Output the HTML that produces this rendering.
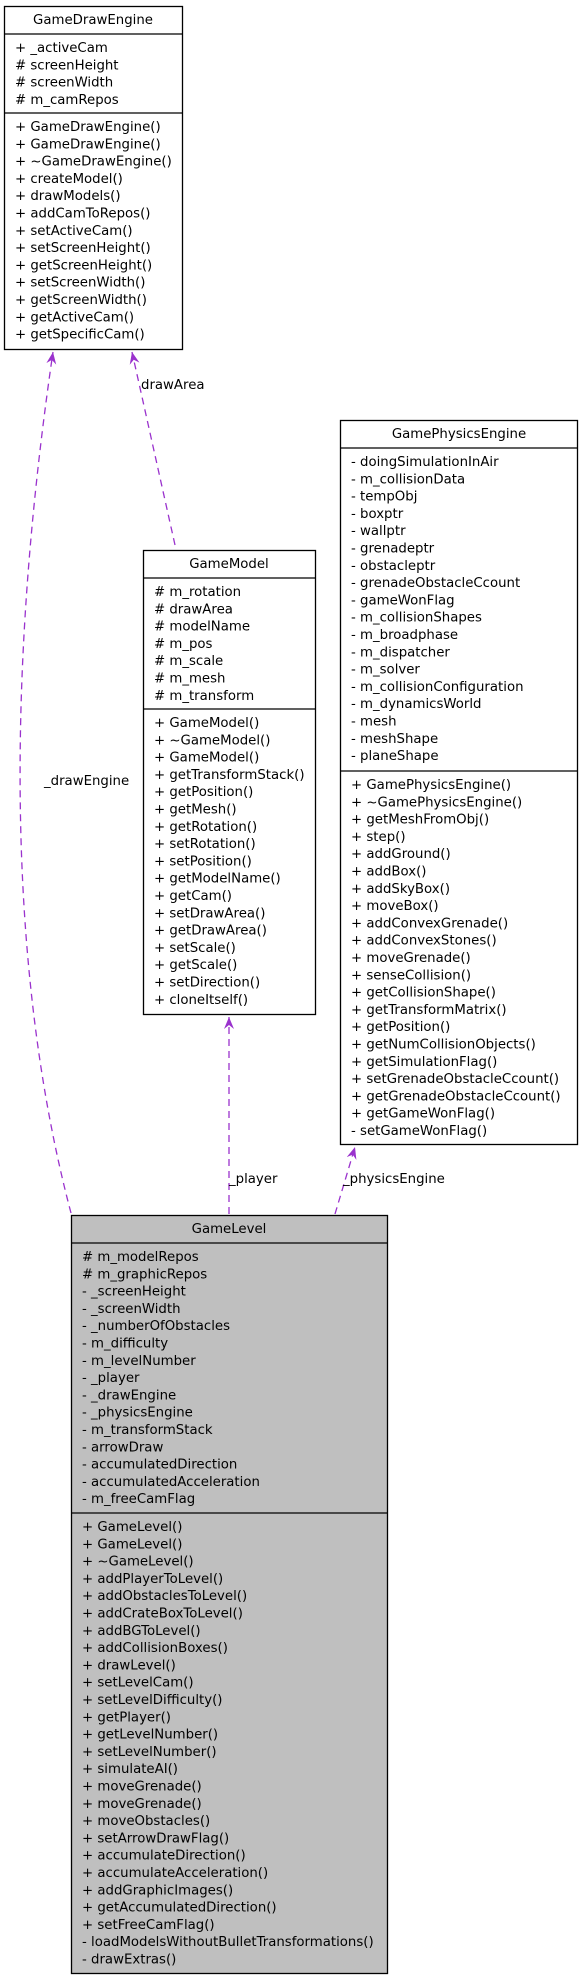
<!DOCTYPE html>
<html><head><meta charset="utf-8"><style>
html,body{margin:0;padding:0;background:#fff;}
svg{display:block;}
text{font-family:"DejaVu Sans","Liberation Sans",sans-serif;font-size:13.3px;fill:#000;}
</style></head><body>
<svg width="583" height="1981" viewBox="0 0 583 1981" xmlns="http://www.w3.org/2000/svg">
<defs>
<marker id="a" markerWidth="14" markerHeight="12" refX="12" refY="5" orient="auto" markerUnits="userSpaceOnUse">
<path d="M0,0 L12,5 L0,10 L4,5 z" fill="#9a32cd"/>
</marker>
</defs>
<g fill="none" stroke="#9a32cd" stroke-width="1.3" stroke-dasharray="7,5">
<path d="M71,1213 C 12,990 2,700 53,352" marker-end="url(#a)"/>
<path d="M175,545 L132,352" marker-end="url(#a)"/>
<path d="M229,1214 L229,1017" marker-end="url(#a)"/>
<path d="M335,1214 L355,1147" marker-end="url(#a)"/>
</g>
<text x="44" y="785">_drawEngine</text>
<text x="141" y="389">drawArea</text>
<text x="229" y="1183">_player</text>
<text x="343" y="1183">_physicsEngine</text>

<!-- GameDrawEngine -->
<g stroke="#000" stroke-width="1.3" fill="#fff">
<rect x="4.5" y="6.5" width="178" height="343"/>
<line x1="4.5" y1="34" x2="182.5" y2="34"/>
<line x1="4.5" y1="113" x2="182.5" y2="113"/>
</g>
<text x="93" y="24" text-anchor="middle">GameDrawEngine</text>
<g>
<text x="15" y="52">+ _activeCam</text>
<text x="15" y="69.3"># screenHeight</text>
<text x="15" y="86.6"># screenWidth</text>
<text x="15" y="103.9"># m_camRepos</text>
<text x="15" y="131">+ GameDrawEngine()</text>
<text x="15" y="148.3">+ GameDrawEngine()</text>
<text x="15" y="165.6">+ ~GameDrawEngine()</text>
<text x="15" y="182.9">+ createModel()</text>
<text x="15" y="200.2">+ drawModels()</text>
<text x="15" y="217.5">+ addCamToRepos()</text>
<text x="15" y="234.8">+ setActiveCam()</text>
<text x="15" y="252.1">+ setScreenHeight()</text>
<text x="15" y="269.4">+ getScreenHeight()</text>
<text x="15" y="286.7">+ setScreenWidth()</text>
<text x="15" y="304">+ getScreenWidth()</text>
<text x="15" y="321.3">+ getActiveCam()</text>
<text x="15" y="338.6">+ getSpecificCam()</text>
</g>

<!-- GamePhysicsEngine -->
<g stroke="#000" stroke-width="1.3" fill="#fff">
<rect x="340.5" y="420.5" width="237" height="724"/>
<line x1="340.5" y1="448" x2="577.5" y2="448"/>
<line x1="340.5" y1="771" x2="577.5" y2="771"/>
</g>
<text x="459" y="438" text-anchor="middle">GamePhysicsEngine</text>
<g>
<text x="351" y="466">- doingSimulationInAir</text>
<text x="351" y="483.3">- m_collisionData</text>
<text x="351" y="500.6">- tempObj</text>
<text x="351" y="517.9">- boxptr</text>
<text x="351" y="535.2">- wallptr</text>
<text x="351" y="552.5">- grenadeptr</text>
<text x="351" y="569.8">- obstacleptr</text>
<text x="351" y="587.1">- grenadeObstacleCcount</text>
<text x="351" y="604.4">- gameWonFlag</text>
<text x="351" y="621.7">- m_collisionShapes</text>
<text x="351" y="639">- m_broadphase</text>
<text x="351" y="656.3">- m_dispatcher</text>
<text x="351" y="673.6">- m_solver</text>
<text x="351" y="690.9">- m_collisionConfiguration</text>
<text x="351" y="708.2">- m_dynamicsWorld</text>
<text x="351" y="725.5">- mesh</text>
<text x="351" y="742.8">- meshShape</text>
<text x="351" y="760.1">- planeShape</text>
<text x="351" y="789">+ GamePhysicsEngine()</text>
<text x="351" y="806.3">+ ~GamePhysicsEngine()</text>
<text x="351" y="823.6">+ getMeshFromObj()</text>
<text x="351" y="840.9">+ step()</text>
<text x="351" y="858.2">+ addGround()</text>
<text x="351" y="875.5">+ addBox()</text>
<text x="351" y="892.8">+ addSkyBox()</text>
<text x="351" y="910.1">+ moveBox()</text>
<text x="351" y="927.4">+ addConvexGrenade()</text>
<text x="351" y="944.7">+ addConvexStones()</text>
<text x="351" y="962">+ moveGrenade()</text>
<text x="351" y="979.3">+ senseCollision()</text>
<text x="351" y="996.6">+ getCollisionShape()</text>
<text x="351" y="1013.9">+ getTransformMatrix()</text>
<text x="351" y="1031.2">+ getPosition()</text>
<text x="351" y="1048.5">+ getNumCollisionObjects()</text>
<text x="351" y="1065.8">+ getSimulationFlag()</text>
<text x="351" y="1083.1">+ setGrenadeObstacleCcount()</text>
<text x="351" y="1100.4">+ getGrenadeObstacleCcount()</text>
<text x="351" y="1117.7">+ getGameWonFlag()</text>
<text x="351" y="1135">- setGameWonFlag()</text>
</g>

<!-- GameModel -->
<g stroke="#000" stroke-width="1.3" fill="#fff">
<rect x="143.5" y="550.5" width="172" height="464"/>
<line x1="143.5" y1="578" x2="315.5" y2="578"/>
<line x1="143.5" y1="709" x2="315.5" y2="709"/>
</g>
<text x="229" y="568" text-anchor="middle">GameModel</text>
<g>
<text x="154" y="596"># m_rotation</text>
<text x="154" y="613.3"># drawArea</text>
<text x="154" y="630.6"># modelName</text>
<text x="154" y="647.9"># m_pos</text>
<text x="154" y="665.2"># m_scale</text>
<text x="154" y="682.5"># m_mesh</text>
<text x="154" y="699.8"># m_transform</text>
<text x="154" y="727">+ GameModel()</text>
<text x="154" y="744.3">+ ~GameModel()</text>
<text x="154" y="761.6">+ GameModel()</text>
<text x="154" y="778.9">+ getTransformStack()</text>
<text x="154" y="796.2">+ getPosition()</text>
<text x="154" y="813.5">+ getMesh()</text>
<text x="154" y="830.8">+ getRotation()</text>
<text x="154" y="848.1">+ setRotation()</text>
<text x="154" y="865.4">+ setPosition()</text>
<text x="154" y="882.7">+ getModelName()</text>
<text x="154" y="900">+ getCam()</text>
<text x="154" y="917.3">+ setDrawArea()</text>
<text x="154" y="934.6">+ getDrawArea()</text>
<text x="154" y="951.9">+ setScale()</text>
<text x="154" y="969.2">+ getScale()</text>
<text x="154" y="986.5">+ setDirection()</text>
<text x="154" y="1003.8">+ cloneItself()</text>
</g>

<!-- GameLevel -->
<g stroke="#000" stroke-width="1.3" fill="#bfbfbf">
<rect x="71.5" y="1215.5" width="316" height="758"/>
<line x1="71.5" y1="1243" x2="387.5" y2="1243"/>
<line x1="71.5" y1="1513" x2="387.5" y2="1513"/>
</g>
<text x="229" y="1233" text-anchor="middle">GameLevel</text>
<g>
<text x="82" y="1261"># m_modelRepos</text>
<text x="82" y="1278.3"># m_graphicRepos</text>
<text x="82" y="1295.6">- _screenHeight</text>
<text x="82" y="1312.9">- _screenWidth</text>
<text x="82" y="1330.2">- _numberOfObstacles</text>
<text x="82" y="1347.5">- m_difficulty</text>
<text x="82" y="1364.8">- m_levelNumber</text>
<text x="82" y="1382.1">- _player</text>
<text x="82" y="1399.4">- _drawEngine</text>
<text x="82" y="1416.7">- _physicsEngine</text>
<text x="82" y="1434">- m_transformStack</text>
<text x="82" y="1451.3">- arrowDraw</text>
<text x="82" y="1468.6">- accumulatedDirection</text>
<text x="82" y="1485.9">- accumulatedAcceleration</text>
<text x="82" y="1503.2">- m_freeCamFlag</text>
<text x="82" y="1531">+ GameLevel()</text>
<text x="82" y="1548.3">+ GameLevel()</text>
<text x="82" y="1565.6">+ ~GameLevel()</text>
<text x="82" y="1582.9">+ addPlayerToLevel()</text>
<text x="82" y="1600.2">+ addObstaclesToLevel()</text>
<text x="82" y="1617.5">+ addCrateBoxToLevel()</text>
<text x="82" y="1634.8">+ addBGToLevel()</text>
<text x="82" y="1652.1">+ addCollisionBoxes()</text>
<text x="82" y="1669.4">+ drawLevel()</text>
<text x="82" y="1686.7">+ setLevelCam()</text>
<text x="82" y="1704">+ setLevelDifficulty()</text>
<text x="82" y="1721.3">+ getPlayer()</text>
<text x="82" y="1738.6">+ getLevelNumber()</text>
<text x="82" y="1755.9">+ setLevelNumber()</text>
<text x="82" y="1773.2">+ simulateAI()</text>
<text x="82" y="1790.5">+ moveGrenade()</text>
<text x="82" y="1807.8">+ moveGrenade()</text>
<text x="82" y="1825.1">+ moveObstacles()</text>
<text x="82" y="1842.4">+ setArrowDrawFlag()</text>
<text x="82" y="1859.7">+ accumulateDirection()</text>
<text x="82" y="1877">+ accumulateAcceleration()</text>
<text x="82" y="1894.3">+ addGraphicImages()</text>
<text x="82" y="1911.6">+ getAccumulatedDirection()</text>
<text x="82" y="1928.9">+ setFreeCamFlag()</text>
<text x="82" y="1946.2">- loadModelsWithoutBulletTransformations()</text>
<text x="82" y="1963.5">- drawExtras()</text>
</g>
</svg>
</body></html>
